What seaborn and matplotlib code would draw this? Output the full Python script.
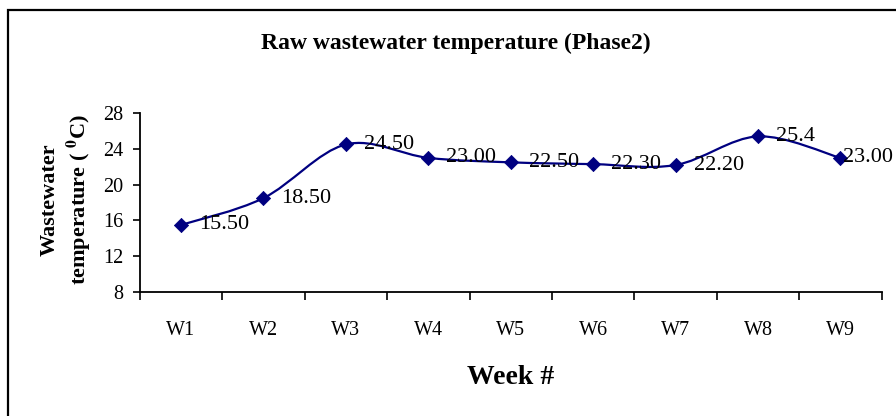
import numpy as np
import matplotlib
matplotlib.use('Agg')
import matplotlib.pyplot as plt
import seaborn as sns
from matplotlib.path import Path
from matplotlib.patches import PathPatch, Rectangle

weeks = ['W1', 'W2', 'W3', 'W4', 'W5', 'W6', 'W7', 'W8', 'W9']
temps = [15.5, 18.5, 24.5, 23.0, 22.5, 22.3, 22.2, 25.4, 23.0]
point_labels = ['15.50', '18.50', '24.50', '23.00', '22.50', '22.30', '22.20', '25.4', '23.00']
yticks = [8, 12, 16, 20, 24, 28]

navy = '#000080'

sns.set_style('ticks')
plt.rcParams['font.family'] = ['Liberation Serif', 'DejaVu Serif']
plt.rcParams['mathtext.fontset'] = 'stix'
for k in ['text.color', 'axes.labelcolor', 'xtick.color', 'ytick.color']:
    plt.rcParams[k] = 'black'

fig = plt.figure(figsize=(8.96, 4.16), dpi=100)
ax = fig.add_axes([0.156, 0.298, 0.828, 0.43])

x = np.arange(len(weeks))
pts = np.column_stack([x, temps]).astype(float)
n = len(pts)

# smoothed line like excel (bezier through the points)
verts = [pts[0]]
codes = [Path.MOVETO]
for i in range(n - 1):
    p0 = pts[max(i - 1, 0)]
    p1 = pts[i]
    p2 = pts[i + 1]
    p3 = pts[min(i + 2, n - 1)]
    verts += [p1 + (p2 - p0) / 6, p2 - (p3 - p1) / 6, p2]
    codes += [Path.CURVE4] * 3
ax.add_patch(PathPatch(Path(verts, codes), fill=False, edgecolor=navy, lw=1.6, zorder=2))

sns.scatterplot(x=x, y=temps, marker='D', s=52, color=navy, edgecolor=navy, ax=ax, zorder=3)

for i, (xi, yi, lab) in enumerate(zip(x, temps, point_labels)):
    off = 1.5 if i == n - 1 else 13
    ax.annotate(lab, (xi, yi), xytext=(off, 0), textcoords='offset points',
                ha='left', va='center', fontsize=16, color='black', annotation_clip=False)

ax.set_xlim(-0.5, 8.5)
ax.set_ylim(8, 28)
ax.set_yticks(yticks)
ax.set_xticks(np.arange(-0.5, 9, 1))
ax.set_xticklabels([])
ax.set_xticks(x, minor=True)
ax.set_xticklabels(weeks, minor=True)
ax.tick_params(axis='x', which='minor', length=0, pad=21, labelsize=14.5)
ax.tick_params(axis='x', which='major', length=5.5, width=1.2, direction='out')
ax.tick_params(axis='y', length=5, width=1.2, pad=7, labelsize=14.5)
for s in ['left', 'bottom']:
    ax.spines[s].set_linewidth(1.3)
    ax.spines[s].set_color('black')
sns.despine(ax=ax)
ax.set_xlabel('')
ax.set_ylabel('')

fig.text(456 / 896, 1 - 43 / 416, 'Raw wastewater temperature (Phase2)', ha='center', va='center',
         fontsize=17, fontweight='bold')
fig.text(66 / 896, 1 - 200 / 416, 'Wastewater\ntemperature ( $^{\\mathbf{0}}$C)', rotation=90,
         ha='center', va='center', multialignment='center', fontsize=16, fontweight='bold',
         linespacing=1.25)
fig.text(0.570, 1 - 377 / 416, 'Week #', ha='center', va='center', fontsize=20, fontweight='bold')

fig.add_artist(Rectangle((8 / 896, -0.1), 1.2, 1 - 10 / 416 + 0.1, transform=fig.transFigure,
                         fill=False, lw=1.6, ec='black'))

fig.savefig('out.png', dpi=100)
